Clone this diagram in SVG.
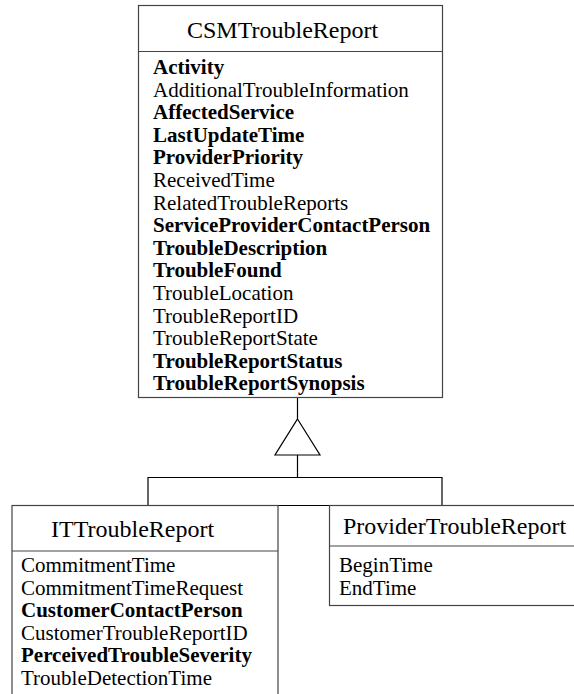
<svg xmlns="http://www.w3.org/2000/svg" width="574" height="694" viewBox="0 0 574 694">
<style>
.box{fill:#fff;stroke:#444;stroke-width:1.2}
.sep{stroke:#444;stroke-width:1.2}
.title{font-family:"Liberation Serif","Times New Roman",serif;font-size:24px;fill:#000}
.attr{font-family:"Liberation Serif","Times New Roman",serif;font-size:21px;fill:#000}
.b{font-weight:bold}
.conn{fill:none;stroke:#000;stroke-width:1.2}
.tri{fill:#fff;stroke:#000;stroke-width:1.2}
</style>
<rect width="574" height="694" fill="#fff"/>
<g id="connectors">
<line class="conn" x1="297.5" y1="397.5" x2="297.5" y2="419"/>
<polygon class="tri" points="297.5,419 320,455 275,455"/>
<line class="conn" x1="297.5" y1="455" x2="297.5" y2="477.5"/>
<polyline class="conn" points="148,505 148,477.5 442,477.5 442,505"/>
<line class="conn" x1="278" y1="505.5" x2="329.5" y2="505.5"/>
</g>
<g id="CSMTroubleReport">
<rect class="box" x="138.5" y="5.5" width="304" height="392"/>
<line class="sep" x1="138.5" y1="51.5" x2="442.5" y2="51.5"/>
<text class="title" x="187" y="38">CSMTroubleReport</text>
<text class="attr b" x="153" y="74">Activity</text>
<text class="attr" x="153" y="96.6">AdditionalTroubleInformation</text>
<text class="attr b" x="153" y="119.2">AffectedService</text>
<text class="attr b" x="153" y="141.8">LastUpdateTime</text>
<text class="attr b" x="153" y="164.4">ProviderPriority</text>
<text class="attr" x="153" y="187">ReceivedTime</text>
<text class="attr" x="153" y="209.6">RelatedTroubleReports</text>
<text class="attr b" x="153" y="232.2">ServiceProviderContactPerson</text>
<text class="attr b" x="153" y="254.8">TroubleDescription</text>
<text class="attr b" x="153" y="277.4">TroubleFound</text>
<text class="attr" x="153" y="300">TroubleLocation</text>
<text class="attr" x="153" y="322.6">TroubleReportID</text>
<text class="attr" x="153" y="345.2">TroubleReportState</text>
<text class="attr b" x="153" y="367.8">TroubleReportStatus</text>
<text class="attr b" x="153" y="390.4">TroubleReportSynopsis</text>
</g>
<g id="ITTroubleReport">
<rect class="box" x="12" y="505.5" width="266" height="200"/>
<line class="sep" x1="12" y1="551" x2="278" y2="551"/>
<text class="title" x="51" y="537">ITTroubleReport</text>
<text class="attr" x="21" y="572">CommitmentTime</text>
<text class="attr" x="21" y="594.6">CommitmentTimeRequest</text>
<text class="attr b" x="21" y="617.2">CustomerContactPerson</text>
<text class="attr" x="21" y="639.8">CustomerTroubleReportID</text>
<text class="attr b" x="21" y="662.4">PerceivedTroubleSeverity</text>
<text class="attr" x="21" y="685">TroubleDetectionTime</text>
</g>
<g id="ProviderTroubleReport">
<rect class="box" x="329.5" y="505.5" width="260" height="100"/>
<line class="sep" x1="329.5" y1="546" x2="590" y2="546"/>
<text class="title" x="343" y="534">ProviderTroubleReport</text>
<text class="attr" x="339" y="572">BeginTime</text>
<text class="attr" x="339" y="594.6">EndTime</text>
</g>
</svg>
